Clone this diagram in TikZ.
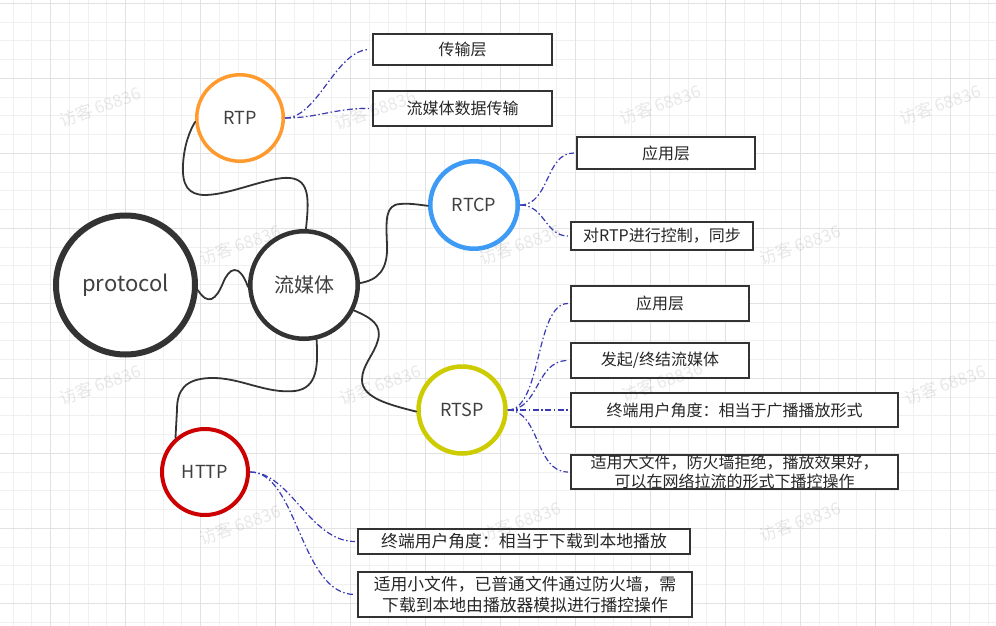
\documentclass[tikz,border=0pt]{standalone}
\usepackage{fontspec}
\setmainfont{Noto Sans CJK SC}
\definecolor{gridminor}{HTML}{F0F0F0}
\definecolor{gridmajor}{HTML}{E2E2E2}
\definecolor{linkblue}{HTML}{3A3AB4}
\definecolor{rtpcol}{HTML}{FF9A2E}
\definecolor{rtcpcol}{HTML}{3D9BF5}
\definecolor{rtspcol}{HTML}{CCCC00}
\definecolor{httpcol}{HTML}{CC0000}
\definecolor{darkline}{HTML}{333333}
\definecolor{labelgray}{HTML}{404040}
\begin{document}
\begin{tikzpicture}[x=1pt,y=-1pt,
  topic/.style={circle, draw=darkline, fill=white, inner sep=0pt, text=labelgray,
    font=\fontsize{18}{20}\selectfont},
  leaf/.style={draw=darkline, line width=2.2pt, fill=white, inner sep=0pt,
    align=center, text=black!85, font=\fontsize{16}{20}\selectfont},
  branch/.style={draw=darkline, line width=1.8pt, line cap=round},
  twig/.style={draw=linkblue, line width=1.2pt, dash pattern=on 6pt off 2.5pt on 1.5pt off 2.5pt},
  wmark/.style={text=black, text opacity=0.09, rotate=20, font=\fontsize{17}{17}\selectfont}]
\useasboundingbox (0,0) rectangle (996,626);
\fill[white] (0,0) rectangle (996,626);
% grid
\foreach \k in {-3,...,50} {\draw[gridminor, line width=1pt] ({50.7+18.75*\k},0) -- ({50.7+18.75*\k},626);}
\foreach \k in {0,...,33} {\draw[gridminor, line width=1pt] (0,{3.3+18.75*\k}) -- (996,{3.3+18.75*\k});}
\foreach \k in {0,...,12} {\draw[gridmajor, line width=1.3pt] ({50.7+75*\k},0) -- ({50.7+75*\k},626);}
\foreach \k in {0,...,8} {\draw[gridmajor, line width=1.3pt] (0,{3.3+75*\k}) -- (996,{3.3+75*\k});}

% topics
\node[topic, line width=6pt, minimum size=139pt, font=\fontsize{22}{24}\selectfont] (proto) at (125.5,285) {protocol};
\node[topic, line width=4.5pt, minimum size=107.5pt, font=\fontsize{20}{22}\selectfont] (flow) at (304,285) {流媒体};
\node[topic, draw=rtpcol, line width=3.5pt, minimum size=86.5pt] (rtp) at (240,118) {RTP};
\node[topic, draw=rtcpcol, line width=4.5pt, minimum size=87.5pt] (rtcp) at (474,205) {RTCP};
\node[topic, draw=rtspcol, line width=4.5pt, minimum size=87pt] (rtsp) at (462,410) {RTSP};
\node[topic, draw=httpcol, line width=4pt, minimum size=86pt] (http) at (205,472) {HTTP};

% leaves
\node[leaf, minimum width=179pt, minimum height=31pt] (b1) at (462.5,49.5) {传输层};
\node[leaf, minimum width=179pt, minimum height=35pt] (b2) at (462.5,108.5) {流媒体数据传输};
\node[leaf, minimum width=178pt, minimum height=32pt] (b3) at (666,153) {应用层};
\node[leaf, minimum width=182pt, minimum height=28pt] (b4) at (662,236) {对RTP进行控制，同步};
\node[leaf, minimum width=178pt, minimum height=35pt] (b5) at (660,303.5) {应用层};
\node[leaf, minimum width=178pt, minimum height=35pt] (b6) at (660,360.5) {发起/终结流媒体};
\node[leaf, minimum width=327pt, minimum height=34pt] (b7) at (734.5,410) {终端用户角度：相当于广播播放形式};
\node[leaf, minimum width=327pt, minimum height=34pt, font=\fontsize{16}{19.5}\selectfont] (b8) at (734.5,472) {适用大文件，防火墙拒绝，播放效果好，\\可以在网络拉流的形式下播控操作};
\node[leaf, minimum width=332pt, minimum height=25pt, font=\fontsize{16.8}{20}\selectfont] (b9) at (524,541.5) {终端用户角度：相当于下载到本地播放};
\node[leaf, minimum width=334pt, minimum height=45pt, font=\fontsize{16.8}{21}\selectfont] (b10) at (525,594.5) {适用小文件，已普通文件通过防火墙，需\\下载到本地由播放器模拟进行播控操作};

% black branches
\draw[branch] (proto.-4) .. controls (208,306) and (216,300) .. (223,283)
  .. controls (229,268) and (239,262) .. (flow.182);
\draw[branch] (flow.88) .. controls (309,200) and (310,180) .. (290,178)
  .. controls (270,176) and (230,195) .. (205,195)
  .. controls (188,195) and (182,185) .. (183,165)
  .. controls (184,145) and (190,130) .. (rtp.185);
\draw[branch] (flow.2) .. controls (378,280) and (388,270) .. (387,245)
  .. controls (386,220) and (385,205) .. (400,204)
  .. controls (410,203) and (420,205) .. (rtcp.181);
\draw[branch] (flow.-27) .. controls (372,318) and (382,325) .. (378,340)
  .. controls (374,355) and (362,365) .. (362,380)
  .. controls (362,398) and (390,405) .. (rtsp.182);
\draw[branch] (flow.-77) .. controls (318,365) and (318,388) .. (295,391)
  .. controls (265,394) and (240,377) .. (210,378)
  .. controls (185,379) and (177,390) .. (177,410) -- (http.131);

% blue twigs
\draw[twig] (rtp.east) .. controls (318,118) and (335,51) .. ([xshift=-3pt]b1.west);
\draw[twig] (rtp.east) .. controls (318,118) and (335,108) .. ([xshift=-3pt]b2.west);
\draw[twig] (rtcp.east) .. controls (550,205) and (545,153) .. ([xshift=-2pt]b3.west);
\draw[twig] (rtcp.east) .. controls (545,205) and (545,236) .. ([xshift=-2pt]b4.west);
\draw[twig] (rtsp.east) .. controls (542,410) and (535,303.5) .. ([xshift=-2pt]b5.west);
\draw[twig] (rtsp.east) .. controls (540,410) and (535,360.5) .. ([xshift=-2pt]b6.west);
\draw[twig] (rtsp.east) -- ([xshift=-2pt]b7.west);
\draw[twig] (rtsp.east) .. controls (540,410) and (535,472) .. ([xshift=-2pt]b8.west);
\draw[twig] (http.east) .. controls (290,472) and (310,541.5) .. ([xshift=-2pt]b9.west);
\draw[twig] (http.east) .. controls (298,472) and (300,594.5) .. ([xshift=-2pt]b10.west);

% watermarks
\foreach \wx/\wy [count=\i] in {100/107, 375/110, 660/105, 940/105,
   -40/245, 240/245, 520/245, 800/245,
   100/385, 380/385, 662/382, 945/385,
   -40/525, 240/525, 520/522, 800/522}
  {\node[wmark] (wm\i) at (\wx,\wy) {访客 68836};}
\end{tikzpicture}
\end{document}
